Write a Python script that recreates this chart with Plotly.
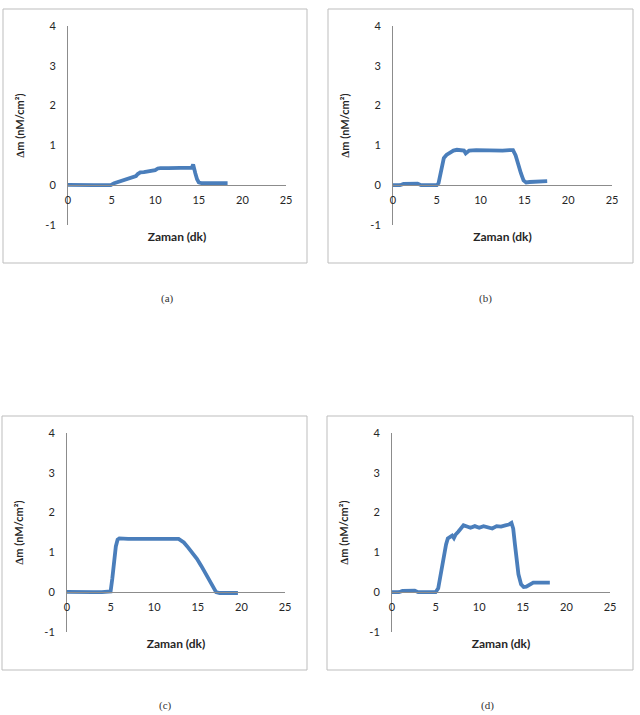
import plotly.graph_objects as go

W, H = 640, 715

# ---------------- data ----------------
a_t = [0, 1, 2, 3, 4, 4.9, 5.3, 5.8, 6.3, 6.8, 7.3, 7.8, 8.0, 8.3, 8.7, 9.2, 9.6, 10.0,
       10.3, 10.6, 11.5, 12.5, 13.5, 14.2, 14.35, 14.45, 14.6, 14.8, 15.0, 15.3, 16.0, 17.0, 18.3]
a_m = [0.01, 0.0, 0.01, 0.0, 0.0, 0.0, 0.05, 0.09, 0.13, 0.17, 0.2, 0.23, 0.28, 0.32, 0.33, 0.35,
       0.36, 0.38, 0.42, 0.43, 0.43, 0.43, 0.43, 0.44, 0.52, 0.46, 0.3, 0.15, 0.07, 0.05, 0.05, 0.05, 0.05]

b_t = [0, 0.8, 1.2, 2.0, 2.8, 3.2, 4.0, 5.0, 5.2, 5.4, 5.6, 5.8, 6.1, 6.5, 6.9, 7.3, 7.8, 8.1,
       8.3, 8.7, 9.5, 10.5, 11.5, 12.5, 13.3, 13.7, 14.0, 14.3, 14.6, 14.9, 15.2, 15.6, 16.5, 17.6]
b_m = [0.0, 0.0, 0.03, 0.03, 0.04, 0.0, 0.0, 0.0, 0.05, 0.3, 0.55, 0.68, 0.76, 0.82, 0.87, 0.89,
       0.88, 0.87, 0.8, 0.87, 0.88, 0.87, 0.88, 0.87, 0.88, 0.88, 0.75, 0.5, 0.3, 0.12, 0.07, 0.08, 0.09, 0.1]

c_t = [0, 1, 2, 3, 4, 5.0, 5.2, 5.4, 5.6, 5.8, 6.0, 7, 8, 9, 10, 11, 12, 12.8, 13.4, 13.9,
       14.4, 14.9, 15.4, 15.9, 16.4, 16.9, 17.1, 17.5, 18.5, 19.6]
c_m = [0.01, 0.0, 0.01, 0.0, 0.0, 0.02, 0.35, 0.8, 1.15, 1.32, 1.35, 1.34, 1.35, 1.34, 1.34, 1.35,
       1.34, 1.34, 1.25, 1.12, 0.98, 0.84, 0.66, 0.46, 0.26, 0.06, 0.0, -0.02, -0.02, -0.02]

d_t = [0, 0.8, 1.2, 2.0, 2.6, 3.0, 4.0, 5.0, 5.3, 5.6, 5.9, 6.2, 6.4, 6.6, 6.9, 7.1, 7.3, 7.6,
       7.9, 8.2, 8.6, 9.0, 9.5, 10.0, 10.5, 11.0, 11.5, 12.0, 12.5, 13.0, 13.4, 13.7, 13.9, 14.1,
       14.3, 14.5, 14.8, 15.1, 15.4, 15.8, 16.2, 16.8, 17.5, 18.1]
d_m = [0.0, 0.0, 0.03, 0.04, 0.04, 0.0, 0.0, 0.0, 0.1, 0.5, 0.9, 1.2, 1.35, 1.38, 1.42, 1.36,
       1.45, 1.52, 1.6, 1.68, 1.65, 1.62, 1.66, 1.62, 1.66, 1.63, 1.6, 1.66, 1.65, 1.68, 1.7, 1.74,
       1.6, 1.2, 0.8, 0.45, 0.2, 0.13, 0.14, 0.2, 0.24, 0.24, 0.23, 0.24]

x_range = [0, 25]
y_range = [-1, 4]
x_ticks = [0, 5, 10, 15, 20, 25]
x_tick_labels = ["0", "5", "10", "15", "20", "25"]
y_ticks = [-1, 0, 1, 2, 3, 4]
y_tick_labels = ["-1", "0", "1", "2", "3", "4"]
captions = ["(a)", "(b)", "(c)", "(d)"]
x_title = "Zaman (dk)"
y_title = "∆m (nM/cm²)"

# ---------------- layout (pixel geometry) ----------------
panels = [
    dict(t=a_t, m=a_m, box=(68, 286, 26, 225), border=(3, 9, 307, 263), cap=(167, 298)),
    dict(t=b_t, m=b_m, box=(393, 612, 26, 225), border=(328, 9, 633, 263), cap=(485, 298)),
    dict(t=c_t, m=c_m, box=(67, 285, 433, 632), border=(2, 416, 307, 670), cap=(165, 705)),
    dict(t=d_t, m=d_m, box=(392, 610, 433, 632), border=(327, 416, 633, 670), cap=(487, 705)),
]

def px(x):
    return x / W

def py(y):
    return 1 - y / H

LINE = "#4A7EBB"
AX = "#8C8C8C"
TXT = "#262626"
FONT = "Lato"

fig = go.Figure()
layout = dict(width=W, height=H, margin=dict(l=0, r=0, t=0, b=0),
              paper_bgcolor="white", plot_bgcolor="rgba(0,0,0,0)", showlegend=False,
              shapes=[], annotations=[])

for i, p in enumerate(panels, start=1):
    xa = "xaxis" if i == 1 else f"xaxis{i}"
    ya = "yaxis" if i == 1 else f"yaxis{i}"
    xr = "x" if i == 1 else f"x{i}"
    yr = "y" if i == 1 else f"y{i}"
    x0, x1, ytop, ybot = p["box"]
    ydom = [py(ybot), py(ytop)]
    zero_pos = ydom[0] + (0 - y_range[0]) / (y_range[1] - y_range[0]) * (ydom[1] - ydom[0])

    fig.add_trace(go.Scatter(x=p["t"], y=p["m"], mode="lines", xaxis=xr, yaxis=yr,
                             line=dict(color=LINE, width=3.8), hoverinfo="skip"))

    layout[xa] = dict(domain=[px(x0), px(x1)], range=x_range, anchor="free", position=zero_pos,
                      tickvals=x_ticks, ticktext=x_tick_labels, showgrid=False, zeroline=False,
                      showline=True, linecolor=AX, linewidth=1, ticks="", ticklabelstandoff=5,
                      tickfont=dict(family=FONT, size=11, color=TXT), fixedrange=True,
                      automargin=False,
                      title=dict(text=x_title, standoff=27,
                                 font=dict(family=FONT, size=12, color=TXT, weight="bold")))
    layout[ya] = dict(domain=ydom, range=y_range, anchor=xr, tickvals=y_ticks,
                      ticktext=y_tick_labels,
                      showgrid=False, zeroline=False, showline=True, linecolor=AX, linewidth=1,
                      ticks="", ticklabelstandoff=9, automargin=False,
                      tickfont=dict(family=FONT, size=11, color=TXT), fixedrange=True,
                      title=dict(text=y_title, standoff=18,
                                 font=dict(family=FONT, size=11, color=TXT, weight="bold")))

    l, t, r, b = p["border"]
    layout["shapes"].append(dict(type="rect", xref="paper", yref="paper",
                                 x0=px(l), x1=px(r), y0=py(b), y1=py(t),
                                 line=dict(color="#BDBDBD", width=1)))
    layout["annotations"].append(dict(text=captions[i - 1], xref="paper", yref="paper",
                                      x=px(p["cap"][0]), y=py(p["cap"][1]),
                                      showarrow=False, xanchor="center", yanchor="middle",
                                      font=dict(family="Liberation Serif", size=11, color="#333333")))

fig.update_layout(**layout)
fig.write_html("out.html", config={"displayModeBar": False},
               post_script="document.body.style.margin='0';document.body.style.overflow='hidden';")
